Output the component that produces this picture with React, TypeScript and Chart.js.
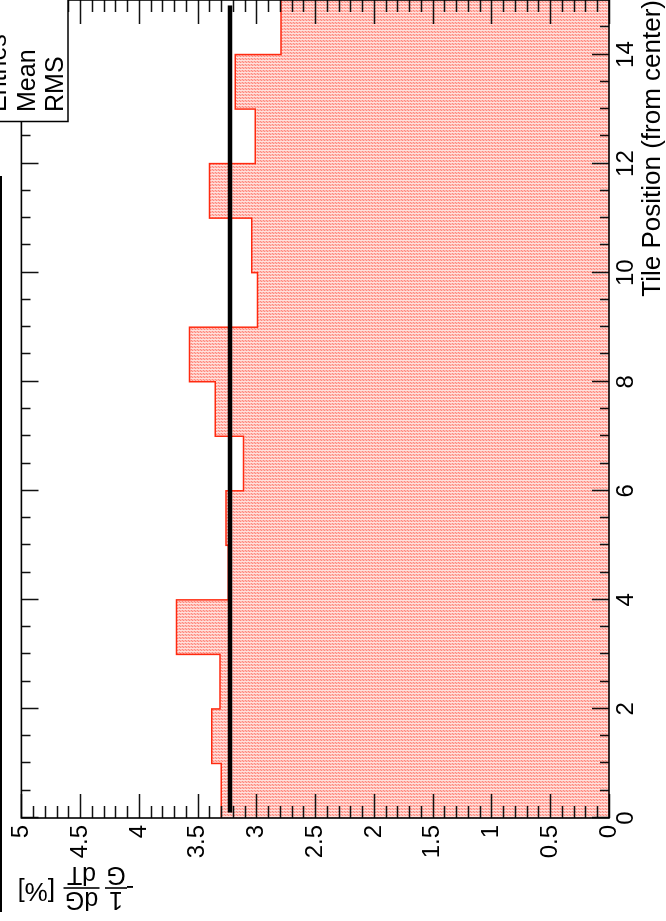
import React, { useEffect, useRef } from "react";
import { Chart, registerables } from "chart.js";

Chart.register(...registerables);

// Gain temperature slope per tile, drawn as a histogram with unit-width bins.
const BIN_LOW_EDGES = [0, 1, 2, 3, 4, 5, 6, 7, 8, 9, 10, 11, 12, 13, 14];
const BIN_UPPER_EDGE = 15;
const GAIN_SLOPE = [3.3, 3.38, 3.31, 3.68, 3.24, 3.26, 3.11, 3.35, 3.57, 2.99, 3.04, 3.4, 3.01, 3.18, 2.79];

// Average slope, drawn as a thick horizontal line across the tiles.
const MEAN_SLOPE = 3.225;
const MEAN_LINE_SPAN = [0.1, 14.9];

// Axis ticks.
const TILE_LABELS = [0, 2, 4, 6, 8, 10, 12, 14];
const TILE_MINOR_STEP = 0.5;
const SLOPE_LABELS = [0, 0.5, 1, 1.5, 2, 2.5, 3, 3.5, 4, 4.5, 5];
const SLOPE_MINOR_STEP = 0.1;

const STAT_LABELS = ["Entries", "Mean", "RMS"];
const X_TITLE = "Tile Position (from center)";

const FONT = "'Liberation Sans', Arial, Helvetica, sans-serif";
const W = 921;
const H = 666;

function makeFillPattern(): CanvasPattern | string {
  const c = document.createElement("canvas");
  c.width = 3;
  c.height = 3;
  const g = c.getContext("2d");
  if (!g) return "#ffc0b8";
  g.fillStyle = "#ffbdb5";
  g.fillRect(0, 0, 3, 3);
  g.fillStyle = "#ffe2de";
  g.fillRect(2, 0, 1, 3);
  g.fillStyle = "#ff887e";
  g.fillRect(0, 0, 1, 1);
  g.fillRect(1, 2, 1, 1);
  const p = g.createPattern(c, "repeat");
  return p || "#ffc0b8";
}

const framePlugin = {
  id: "rootFrame",
  afterDatasetsDraw(chart: any) {
    const { ctx, chartArea } = chart;
    const { left, right, top, bottom } = chartArea;
    const xs = chart.scales.x;
    const ys = chart.scales.y;
    ctx.save();

    // tick marks pointing into the frame on all four sides
    ctx.strokeStyle = "#111";
    ctx.lineWidth = 1.5;
    ctx.beginPath();
    const nTile = Math.round(BIN_UPPER_EDGE / TILE_MINOR_STEP);
    for (let i = 0; i <= nTile; i++) {
      const v = i * TILE_MINOR_STEP;
      const px = Math.round(xs.getPixelForValue(v)) + 0.5;
      const major = TILE_LABELS.includes(v);
      const len = major ? 17 : 9;
      ctx.moveTo(px, bottom);
      ctx.lineTo(px, bottom - len);
      ctx.moveTo(px, top);
      ctx.lineTo(px, top + len);
    }
    const nSlope = Math.round(5 / SLOPE_MINOR_STEP);
    for (let i = 0; i <= nSlope; i++) {
      const v = i * SLOPE_MINOR_STEP;
      const py = Math.round(ys.getPixelForValue(v)) + 0.5;
      const major = i % 5 === 0;
      const len = major ? 24 : 12;
      ctx.moveTo(left, py);
      ctx.lineTo(left + len, py);
      ctx.moveTo(right, py);
      ctx.lineTo(right - len, py);
    }
    ctx.stroke();

    // frame
    ctx.strokeStyle = "#000";
    ctx.lineWidth = 1.6;
    ctx.strokeRect(left, top, right - left, bottom - top);

    // edge of the title pave
    ctx.lineWidth = 2;
    ctx.beginPath();
    ctx.moveTo(9, 1);
    ctx.lineTo(745, 1);
    ctx.stroke();

    // statistics box (values run past the canvas edge)
    ctx.fillStyle = "#fff";
    ctx.fillRect(799, -5, 130, 73);
    ctx.lineWidth = 1.5;
    ctx.strokeRect(799.5, -5, 130, 73);
    ctx.fillStyle = "#000";
    ctx.font = `25px ${FONT}`;
    ctx.textAlign = "left";
    ctx.textBaseline = "alphabetic";
    STAT_LABELS.forEach((s, i) => ctx.fillText(s, 809, 6 + i * 28.5));

    // y-axis title: -1/G dG/dT [%], read upwards along the left edge
    ctx.translate(33, 133);
    ctx.rotate(-Math.PI / 2);
    ctx.fillStyle = "#000";
    ctx.strokeStyle = "#000";
    ctx.font = `24px ${FONT}`;
    ctx.textAlign = "left";
    ctx.fillText("-", -1, 6.5);
    const frac = (num: string, den: string, cx: number, half: number) => {
      ctx.font = `25px ${FONT}`;
      ctx.textAlign = "center";
      ctx.fillText(num, cx, -4.5);
      ctx.fillText(den, cx, 21);
      ctx.lineWidth = 1.6;
      ctx.beginPath();
      ctx.moveTo(cx - half, 0);
      ctx.lineTo(cx + half, 0);
      ctx.stroke();
    };
    frac("1", "G", 17, 11);
    frac("dG", "dT", 51.5, 18);
    ctx.font = `26px ${FONT}`;
    ctx.textAlign = "left";
    ctx.fillText("[%]", 78, 4.5);

    ctx.restore();
  },
};

export default function App() {
  const canvasRef = useRef<HTMLCanvasElement | null>(null);

  useEffect(() => {
    const canvas = canvasRef.current;
    if (!canvas) return;

    const histPoints = BIN_LOW_EDGES.map((x, i) => ({ x, y: GAIN_SLOPE[i] }));
    histPoints.push({ x: BIN_UPPER_EDGE, y: GAIN_SLOPE[GAIN_SLOPE.length - 1] });
    const meanPoints = MEAN_LINE_SPAN.map((x) => ({ x, y: MEAN_SLOPE }));

    const tickFont = { family: FONT, size: 24, lineHeight: 1.2 };

    const chart = new Chart(canvas, {
      type: "line",
      data: {
        datasets: [
          {
            label: "mean",
            data: meanPoints,
            borderColor: "#000",
            borderWidth: 4.5,
            pointRadius: 0,
            fill: false,
          },
          {
            label: "slope",
            data: histPoints,
            stepped: true,
            borderColor: "#ff2a10",
            borderWidth: 1.5,
            backgroundColor: makeFillPattern() as any,
            fill: "origin",
            pointRadius: 0,
          },
        ],
      },
      options: {
        responsive: false,
        animation: false,
        devicePixelRatio: 1,
        layout: { padding: { top: 20, right: 0, left: 0, bottom: 0 } },
        plugins: {
          legend: { display: false },
          tooltip: { enabled: false },
          title: { display: false },
        },
        scales: {
          x: {
            type: "linear",
            min: 0,
            max: BIN_UPPER_EDGE,
            afterBuildTicks: (s: any) => {
              s.ticks = TILE_LABELS.map((value) => ({ value }));
            },
            afterFit: (s: any) => {
              s.height = 57;
            },
            grid: { display: false, drawTicks: false },
            border: { display: false },
            ticks: {
              font: tickFont,
              color: "#000",
              padding: 3,
              maxRotation: 0,
              minRotation: 0,
              autoSkip: false,
              callback: (v: any) => String(v),
            },
            title: {
              display: true,
              text: X_TITLE,
              align: "end",
              color: "#000",
              font: { family: FONT, size: 26, lineHeight: 1 },
              padding: 0,
            },
          },
          y: {
            type: "linear",
            min: 0,
            max: 5,
            afterBuildTicks: (s: any) => {
              s.ticks = SLOPE_LABELS.map((value) => ({ value }));
            },
            afterFit: (s: any) => {
              s.width = 103;
            },
            grid: { display: false, drawTicks: false },
            border: { display: false },
            ticks: {
              font: tickFont,
              color: "#000",
              padding: 7,
              autoSkip: false,
              callback: (v: any) => String(v),
            },
          },
        },
      },
      plugins: [framePlugin],
    });

    return () => chart.destroy();
  }, []);

  return (
    <div
      style={{
        position: "fixed",
        left: 0,
        top: 0,
        width: W,
        height: H,
        background: "#fff",
        transformOrigin: "0 0",
        transform: `translate(0px, ${W}px) rotate(-90deg)`,
      }}
    >
      <canvas ref={canvasRef} width={W} height={H} style={{ display: "block" }} />
    </div>
  );
}
